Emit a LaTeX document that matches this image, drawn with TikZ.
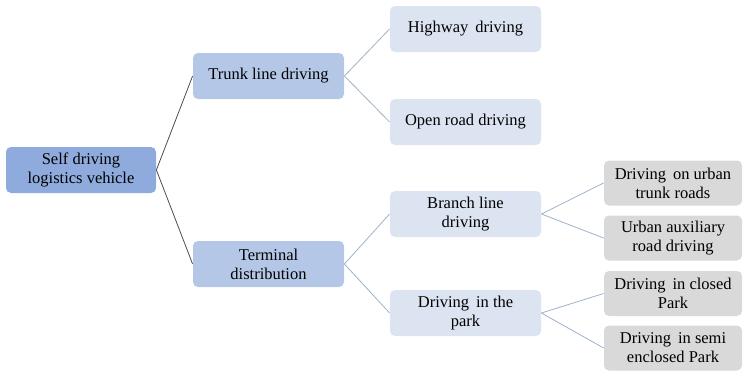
\documentclass[tikz,border=0pt]{standalone}
\usepackage{fontspec}
\setmainfont{Liberation Serif}
\newfontfamily\boxfont{Liberation Serif}
\definecolor{rootblue}{HTML}{8FAADC}
\definecolor{midblue}{HTML}{B4C7E7}
\definecolor{paleblue}{HTML}{DCE4F2}
\definecolor{leafgray}{HTML}{D9D9D9}
\definecolor{linkblue}{HTML}{9DB2CC}

\begin{document}
\begin{tikzpicture}[x=1pt, y=-1pt, thick,
        box/.style = {rounded corners=5pt, align=center, text=black,
                      font=\boxfont\fontsize{16.5}{19}\selectfont, inner sep=0pt,
                      minimum height=46pt},
        top/.style = {box, fill=rootblue, minimum width=150pt},
        lvla/.style = {box, fill=midblue, minimum width=151pt},
        lvlb/.style = {box, fill=paleblue, minimum width=151pt},
        leaf/.style = {box, fill=leafgray, minimum width=138pt, minimum height=45pt},
        root link/.style = {draw=black!70, line width=0.8pt},
        link/.style = {draw=linkblue, line width=0.8pt}]
        \useasboundingbox (0,0) rectangle (747,372);
        \node[top] (root) at (81,170) {Self driving\\logistics vehicle};
        \node[lvla] (trunk) at (268.5,76) {Trunk line driving};
        \node[lvla] (terminal) at (268.5,264) {Terminal\\distribution};
        \node[lvlb] (highway) at (465.5,29) {Highway\, driving};
        \node[lvlb] (open) at (465.5,122) {Open road driving};
        \node[lvlb] (branch) at (465.5,214) {Branch line\\driving};
        \node[lvlb] (park) at (465.5,313) {Driving\, in the\\park};
        \node[leaf] (urban) at (673,183) {Driving\, on urban\\trunk roads};
        \node[leaf] (aux) at (673,238) {Urban auxiliary\\road driving};
        \node[leaf] (closed) at (673,293.5) {Driving\, in closed\\Park};
        \node[leaf] (semi) at (673,348) {Driving\, in semi\\enclosed Park};
        \draw[root link] (root.east) -- (trunk.west);
        \draw[root link] (root.east) -- (terminal.west);
        \draw[link] (trunk.east) -- (highway.west);
        \draw[link] (trunk.east) -- (open.west);
        \draw[link] (terminal.east) -- (branch.west);
        \draw[link] (terminal.east) -- (park.west);
        \draw[link] (branch.east) -- (urban.west);
        \draw[link] (branch.east) -- (aux.west);
        \draw[link] (park.east) -- (closed.west);
        \draw[link] (park.east) -- (semi.west);
    \end{tikzpicture}
\end{document}
